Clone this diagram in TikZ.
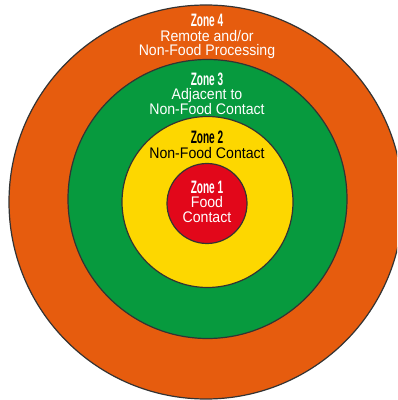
\documentclass[tikz,border=0pt]{standalone}
\usepackage{fontspec}
\setmainfont{Liberation Sans}[FakeStretch=0.92]
\newfontfamily\titlefont{Liberation Sans}[FakeStretch=0.56]
\usepackage{xcolor}
\usepackage{tikz}

\definecolor{zoneorange}{HTML}{E65C0E}
\definecolor{zonegreen}{HTML}{079A3E}
\definecolor{zoneyellow}{HTML}{FDD700}
\definecolor{zonered}{HTML}{E2071A}

\newcommand{\zonetitle}[1]{{\titlefont\bfseries\fontsize{13.5}{10.9}\selectfont #1}}

\begin{document}
\begin{tikzpicture}[x=0.75pt,y=0.75pt,
	ring/.style={circle,draw=black!80,line width=0.9pt,inner sep=0pt},
	zonetext/.style={align=center,inner sep=0pt,font=\fontsize{11.5}{10.9}\selectfont}]
	\clip (0,0) rectangle (397,400);
	\fill[white] (0,0) rectangle (397,400);
	
	% rings, outside in
	\node[ring,fill=zoneorange,minimum size=295.5pt] (zone4) at (206,198) {};
	\node[ring,fill=zonegreen,minimum size=209.25pt] (zone3) at (207.5,201) {};
	\node[ring,fill=zoneyellow,minimum size=128.25pt] (zone2) at (207.5,198) {};
	\node[ring,fill=zonered,minimum size=60pt] (zone1) at (207,196.5) {};
	
	% labels
	\node[zonetext,white] (text4) at (207,363.5) {\zonetitle{Zone 4}\\Remote and/or\\Non-Food Processing};
	\node[zonetext,white] (text3) at (207,306.5) {\zonetitle{Zone 3}\\Adjacent to\\Non-Food Contact};
	\node[zonetext,black] (text2) at (207,255) {\zonetitle{Zone 2}\\Non-Food Contact};
	\node[zonetext,white] (text1) at (207,198.5) {\zonetitle{Zone 1}\\Food\\Contact};
\end{tikzpicture}
\end{document}
